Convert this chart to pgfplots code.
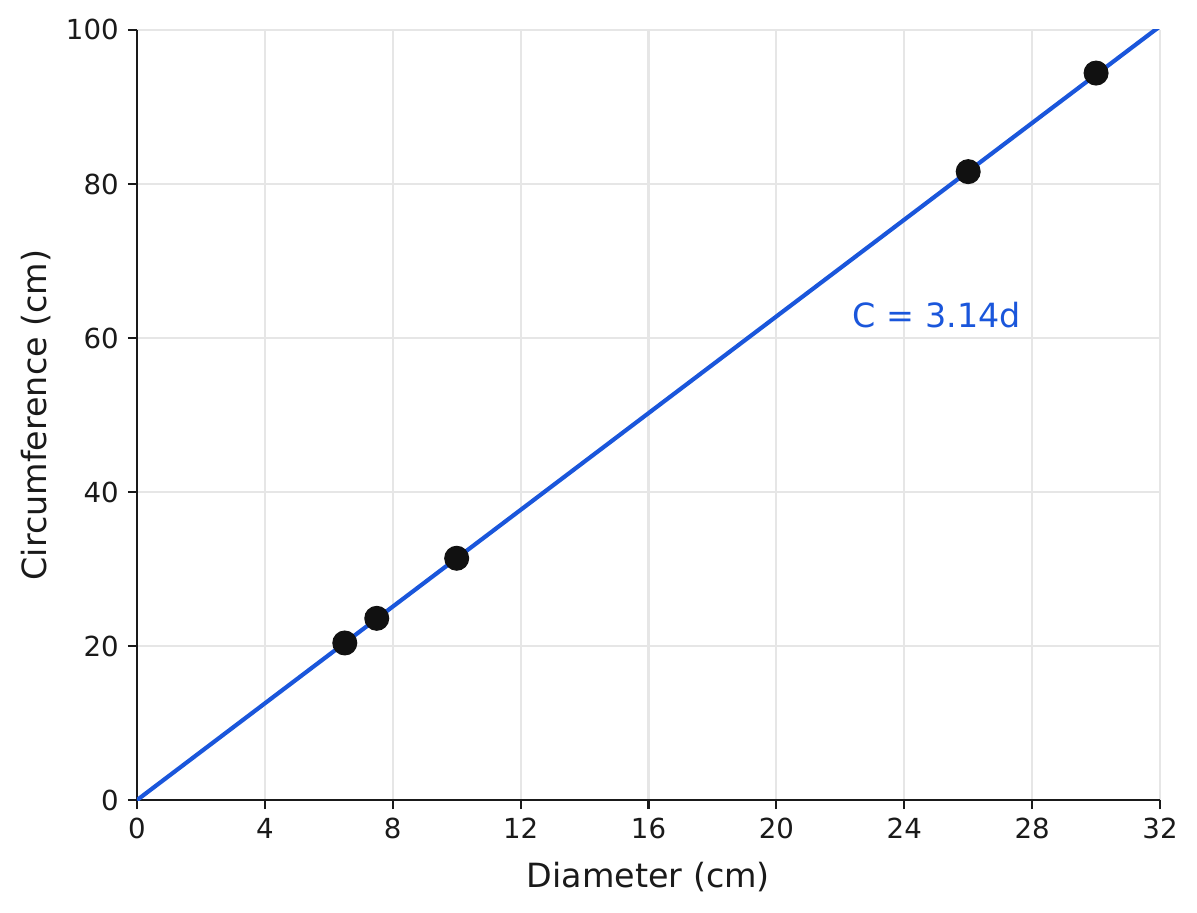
\documentclass[border=0pt]{standalone}
\usepackage{fontspec}
\setmainfont{DejaVu Sans}
\usepackage{pgfplots}
\pgfplotsset{compat=1.18}
\definecolor{fitblue}{HTML}{1A56DB}
\definecolor{dotblack}{HTML}{111111}
\definecolor{gridgray}{HTML}{E6E6E6}
\definecolor{textblack}{HTML}{1A1A1A}

\begin{document}
\begin{tikzpicture}
  % 1 px of the reference = 0.384pt
  \begin{axis}[
    scale only axis,
    width=392.8pt, height=295.7pt,
    xmin=0, xmax=32, ymin=0, ymax=100,
    xtick={0,4,...,32}, ytick={0,20,...,100},
    axis x line*=bottom, axis y line*=left,
    axis line style={line width=0.8pt, textblack, -},
    tick style={line width=0.8pt, textblack},
    tick align=outside, major tick length=3.5pt,
    grid=major,
    major grid style={gridgray, line width=0.8pt},
    ticklabel style={font=\fontsize{10.6}{12}\selectfont, text=textblack},
    /pgf/number format/assume math mode=true,
    xlabel={Diameter (cm)}, ylabel={Circumference (cm)},
    label style={font=\fontsize{12.8}{14}\selectfont, text=textblack},
    xlabel style={yshift=-2pt},
    ylabel style={yshift=-1pt},
    clip=true,
  ]
    % fitted line C = 3.14 d
    \addplot[fitblue, line width=1.6pt] coordinates {(0,0) (32,100.48)};
    % measured points
    \addplot[only marks, mark=*, mark size=4.6pt,
      mark options={fill=dotblack, draw=dotblack}] coordinates {
      (6.5,20.4) (7.5,23.6) (10,31.4) (26,81.6) (30,94.4)
    };
    \node[anchor=base west, text=fitblue, font=\fontsize{12.8}{14}\selectfont,
      inner sep=0pt] at (axis cs:22.38,61.4) {C = 3.14d};
  \end{axis}
  \pgfresetboundingbox
  \path[use as bounding box]
    ([shift={(-52.6pt,-43.0pt)}]current axis.south west)
    rectangle ([shift={(14.2pt,11.5pt)}]current axis.north east);
\end{tikzpicture}
\end{document}
